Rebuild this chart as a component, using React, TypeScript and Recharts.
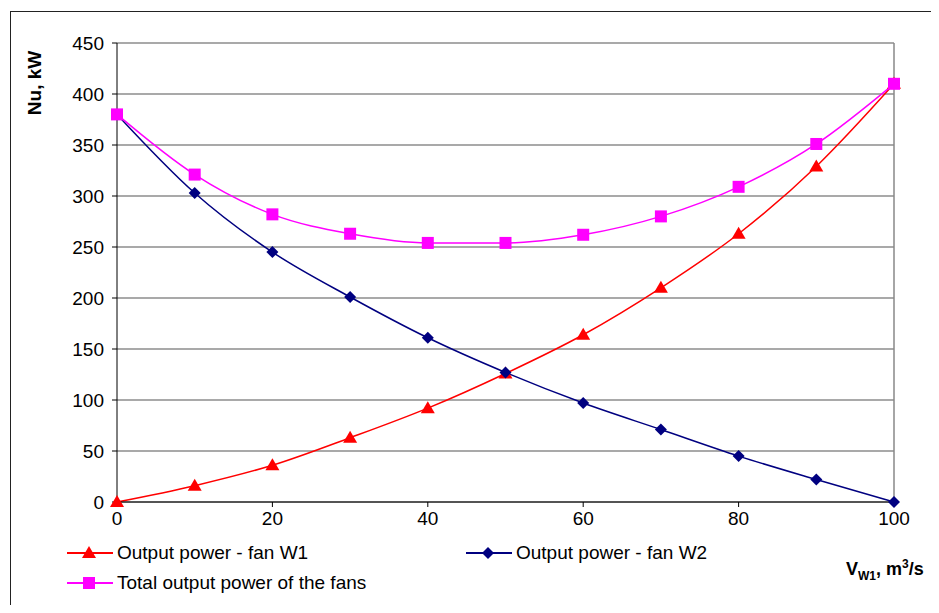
import React from "react";
import {
  LineChart,
  Line,
  XAxis,
  YAxis,
  CartesianGrid,
  ReferenceLine,
} from "recharts";

const flow = [0, 10, 20, 30, 40, 50, 60, 70, 80, 90, 100];
const fanW1 = [0, 16, 36, 63, 92, 126, 164, 210, 263, 329, 410];
const fanW2 = [380, 303, 245, 201, 161, 127, 97, 71, 45, 22, 0];
const total = [380, 321, 282, 263, 254, 254, 262, 280, 309, 351, 410];

const xTicks = [0, 20, 40, 60, 80, 100];
const yTicks = [0, 50, 100, 150, 200, 250, 300, 350, 400, 450];

const data = flow.map((v, i) => ({
  v,
  w1: fanW1[i],
  w2: fanW2[i],
  total: total[i],
}));

const FONT = "'Liberation Sans', Arial, sans-serif";

const Triangle = ({ cx, cy, fill }: any) =>
  cx == null ? null : (
    <polygon
      points={`${cx},${cy - 7} ${cx + 7},${cy + 5} ${cx - 7},${cy + 5}`}
      fill={fill}
    />
  );

const Diamond = ({ cx, cy, fill }: any) =>
  cx == null ? null : (
    <polygon
      points={`${cx},${cy - 6} ${cx + 6},${cy} ${cx},${cy + 6} ${cx - 6},${cy}`}
      fill={fill}
    />
  );

const Square = ({ cx, cy, fill }: any) =>
  cx == null ? null : (
    <rect x={cx - 6} y={cy - 6} width={12} height={12} fill={fill} />
  );

const series = [
  { key: "w1", name: "Output power - fan W1", color: "#FF0000", Dot: Triangle },
  { key: "w2", name: "Output power - fan W2", color: "#000080", Dot: Diamond },
  { key: "total", name: "Total output power of the fans", color: "#FF00FF", Dot: Square },
];

const legendPos = [
  { left: 67, top: 542 },
  { left: 466, top: 542 },
  { left: 67, top: 572 },
];

export default function App() {
  return (
    <div
      style={{
        position: "relative",
        width: 939,
        height: 613,
        margin: -8,
        overflow: "hidden",
        background: "#fff",
        fontFamily: FONT,
      }}
    >
      <div
        style={{
          position: "absolute",
          left: 10,
          top: 11,
          width: 960,
          height: 640,
          border: "1.5px solid #222",
        }}
      />
      <LineChart
        width={939}
        height={613}
        data={data}
        margin={{ top: 43, right: 45, bottom: 81, left: 57 }}
        style={{ position: "absolute", left: 0, top: 0 }}
      >
        <CartesianGrid vertical={false} stroke="#555" strokeWidth={1.2} />
        <ReferenceLine x={100} stroke="#888" strokeWidth={1.5} />
        <XAxis
          dataKey="v"
          type="number"
          domain={[0, 100]}
          ticks={xTicks}
          stroke="#000"
          tickSize={5}
          tick={{ fill: "#000", fontSize: 19, fontFamily: FONT }}
          tickMargin={5}
          height={30}
        />
        <YAxis
          type="number"
          domain={[0, 450]}
          ticks={yTicks}
          stroke="#000"
          tickSize={5}
          tick={{ fill: "#000", fontSize: 19, fontFamily: FONT }}
          tickMargin={8}
          width={60}
          interval={0}
        />
        {series.map((s) => (
          <Line
            key={s.key}
            dataKey={s.key}
            type="monotone"
            stroke={s.color}
            strokeWidth={1.5}
            dot={<s.Dot fill={s.color} />}
            isAnimationActive={false}
          />
        ))}
      </LineChart>

      <div
        style={{
          position: "absolute",
          left: 35,
          top: 83,
          transform: "translate(-50%, -50%) rotate(-90deg)",
          fontWeight: "bold",
          fontSize: 19,
          whiteSpace: "nowrap",
        }}
      >
        Nu, kW
      </div>

      <div
        style={{
          position: "absolute",
          left: 846,
          top: 557,
          fontWeight: "bold",
          fontSize: 18,
          whiteSpace: "nowrap",
        }}
      >
        V<sub style={{ fontSize: 12 }}>W1</sub>, m<sup style={{ fontSize: 12 }}>3</sup>/s
      </div>

      {series.map((s, i) => (
        <div
          key={s.key}
          style={{
            position: "absolute",
            left: legendPos[i].left,
            top: legendPos[i].top,
            display: "flex",
            alignItems: "center",
            fontSize: 19,
            lineHeight: "22px",
            whiteSpace: "nowrap",
          }}
        >
          <svg width={46} height={22}>
            <line x1={0} y1={11} x2={46} y2={11} stroke={s.color} strokeWidth={2} />
            <s.Dot cx={22} cy={11} fill={s.color} />
          </svg>
          <span style={{ marginLeft: 4 }}>{s.name}</span>
        </div>
      ))}
    </div>
  );
}
